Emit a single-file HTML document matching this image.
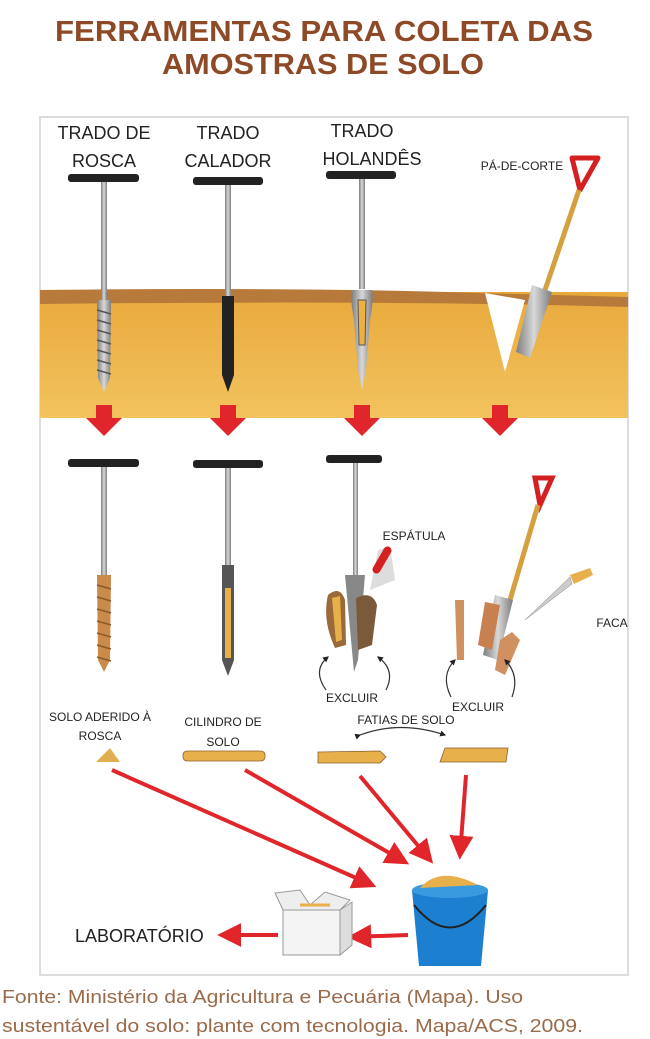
<!DOCTYPE html>
<html><head><meta charset="utf-8"><style>
html,body{margin:0;padding:0;background:#fff;width:650px;height:1039px;overflow:hidden}
svg{display:block}
text{font-family:"Liberation Sans",sans-serif}
</style></head><body>
<svg width="650" height="1039" viewBox="0 0 650 1039" xmlns="http://www.w3.org/2000/svg">
<defs>
<linearGradient id="soil" x1="0" y1="0" x2="0" y2="1">
<stop offset="0" stop-color="#e9a93c"/><stop offset="1" stop-color="#f2c35e"/></linearGradient>
<linearGradient id="steel" x1="0" y1="0" x2="1" y2="0">
<stop offset="0" stop-color="#7d7d7d"/><stop offset=".5" stop-color="#d8d8d8"/><stop offset="1" stop-color="#7d7d7d"/></linearGradient>
<marker id="ra" viewBox="0 0 10 10" refX="8" refY="5" markerWidth="6" markerHeight="6" orient="auto"><path d="M0 0L10 5L0 10z" fill="#e0262b"/></marker>
<marker id="ka" viewBox="0 0 10 10" refX="8" refY="5" markerWidth="5" markerHeight="5" orient="auto"><path d="M0 0L10 5L0 10z" fill="#222"/></marker>
</defs>
<g font-weight="bold" fill="#8e4a27" font-size="29" text-anchor="middle">
<text x="324" y="41" textLength="538" lengthAdjust="spacingAndGlyphs">FERRAMENTAS PARA COLETA DAS</text>
<text x="323" y="74" textLength="322" lengthAdjust="spacingAndGlyphs">AMOSTRAS DE SOLO</text></g>
<rect x="40" y="117" width="588" height="858" fill="#fff" stroke="#ddd" stroke-width="2"/>
<!-- soil -->
<path d="M40 292 L628 292 L628 418 L40 418Z" fill="url(#soil)"/>
<path d="M40 290 Q300 287 480 293 L628 297 L628 307 Q400 300 40 304Z" fill="#b77a3a"/>
<path d="M485 293 L505 372 L525 300Z" fill="#fff"/>
<g font-size="18" fill="#222" text-anchor="middle">
<text x="104" y="139">TRADO DE</text><text x="104" y="167">ROSCA</text>
<text x="228" y="139">TRADO</text><text x="228" y="167">CALADOR</text>
<text x="362" y="137">TRADO</text><text x="372" y="165">HOLANDÊS</text></g>
<text x="522" y="170" font-size="12" fill="#222" text-anchor="middle">PÁ-DE-CORTE</text>
<!-- top tools -->
<g>
<rect x="68" y="174" width="71" height="8" rx="3" fill="#222"/><rect x="101" y="182" width="6" height="120" fill="url(#steel)"/>
<path d="M97 300 L111 300 L110 378 L104 392 L98 378Z" fill="url(#steel)"/>
<g stroke="#555" stroke-width="1.5"><path d="M97 310 l14 4 M97 320 l14 4 M97 330 l14 4 M97 340 l14 4 M97 350 l14 4 M97 360 l14 4 M97 370 l14 4"/></g>
<rect x="193" y="177" width="70" height="8" rx="3" fill="#222"/><rect x="225" y="185" width="6" height="112" fill="url(#steel)"/>
<path d="M222 296 L234 296 L234 375 L228 392 L222 375Z" fill="#222"/>
<rect x="326" y="171" width="70" height="8" rx="3" fill="#222"/><rect x="359" y="179" width="6" height="110" fill="url(#steel)"/>
<path d="M352 290 Q350 300 354 320 L358 370 L362 390 L366 370 L370 320 Q374 300 372 290Z" fill="url(#steel)"/>
<path d="M358 300 L366 300 L365 345 L359 345Z" fill="#f0b040" stroke="#555"/>
<path d="M572 158 L598 158 L580 190 Z" fill="none" stroke="#d42020" stroke-width="5" stroke-linejoin="round"/>
<path d="M579 190 L545 290" stroke="#d6a040" stroke-width="5"/>
<path d="M532 285 L552 292 L530 358 L516 352Z" fill="url(#steel)"/>
</g>
<!-- red arrows -->
<g fill="#e0262b">
<path d="M96 405 h16 v13 h10 l-18 18 l-18 -18 h10z"/>
<path d="M220 405 h16 v13 h10 l-18 18 l-18 -18 h10z"/>
<path d="M354 405 h16 v13 h10 l-18 18 l-18 -18 h10z"/>
<path d="M492 405 h16 v13 h10 l-18 18 l-18 -18 h10z"/></g>
<!-- second row -->
<rect x="68" y="459" width="71" height="8" rx="3" fill="#222"/><rect x="101" y="467" width="6" height="110" fill="url(#steel)"/>
<path d="M97 575 L111 575 L110 660 L104 672 L98 660Z" fill="#c98a4a"/>
<g stroke="#8a5a2a" stroke-width="1.5"><path d="M97 585 l14 4 M97 597 l14 4 M97 609 l14 4 M97 621 l14 4 M97 633 l14 4 M97 645 l14 4 M97 657 l14 4"/></g>
<rect x="193" y="460" width="70" height="8" rx="3" fill="#222"/><rect x="225" y="468" width="6" height="100" fill="url(#steel)"/>
<path d="M222 565 L234 565 L234 660 L228 676 L222 660Z" fill="#555"/><rect x="225" y="588" width="6" height="70" fill="#e8b04a"/>
<rect x="326" y="455" width="56" height="8" rx="3" fill="#222"/><rect x="353" y="463" width="5" height="115" fill="url(#steel)"/>
<path d="M345 575 L365 575 L358 660 L354 672 Z" fill="#888"/>
<path d="M328 595 Q340 585 345 600 L346 645 L335 648 Q322 620 328 595Z" fill="#9a6a3a"/><path d="M332 598 L340 596 L342 640 L336 642Z" fill="#e8b04a"/>
<path d="M356 598 Q372 590 377 605 L372 645 L358 650Z" fill="#7a5a3a"/>
<path d="M378 550 L390 546 L395 580 L370 590 Z" fill="#ddd"/><rect x="378" y="545" width="8" height="30" rx="4" fill="#d42020" transform="rotate(30 382 560)"/>
<text x="414" y="540" font-size="12" fill="#222" text-anchor="middle">ESPÁTULA</text>
<path d="M535 478 L552 478 L540 505Z" fill="none" stroke="#d42020" stroke-width="5"/>
<path d="M538 505 L510 600" stroke="#d6a040" stroke-width="5"/>
<path d="M495 595 L513 600 L498 660 L483 655Z" fill="url(#steel)"/>
<path d="M485 602 L500 605 L492 650 L478 645Z" fill="#c98050"/>
<path d="M455 600 L464 600 L464 660 L457 660Z" fill="#d09060"/>
<path d="M500 640 L512 632 L520 640 L505 675 L495 670Z" fill="#d09060"/>
<path d="M570 575 L590 568 L593 575 L574 584Z" fill="#e8b04a"/><path d="M570 577 L525 620 L572 584Z" fill="#ccc" stroke="#888" stroke-width=".5"/>
<text x="612" y="627" font-size="12" fill="#222" text-anchor="middle">FACA</text>
<g fill="none" stroke="#333" stroke-width="1.2">
<path d="M326 690 Q312 670 328 657" marker-end="url(#ka)"/>
<path d="M386 690 Q396 670 378 657" marker-end="url(#ka)"/>
<path d="M451 697 Q440 675 455 660" marker-end="url(#ka)"/>
<path d="M512 697 Q520 675 505 660" marker-end="url(#ka)"/>
<path d="M360 735 Q400 720 445 735" marker-start="url(#ka)" marker-end="url(#ka)"/></g>
<g font-size="12" fill="#222" text-anchor="middle">
<text x="352" y="702">EXCLUIR</text><text x="478" y="711">EXCLUIR</text>
<text x="406" y="724">FATIAS DE SOLO</text>
<text x="100" y="721">SOLO ADERIDO À</text><text x="100" y="740">ROSCA</text>
<text x="223" y="726">CILINDRO DE</text><text x="223" y="746">SOLO</text></g>
<path d="M96 762 L110 748 L120 762Z" fill="#e0b050"/>
<rect x="183" y="751" width="82" height="10" rx="4" fill="#e8b04a" stroke="#8a6030" stroke-width=".8"/>
<path d="M318 752 L380 751 L386 757 L380 763 L318 763Z" fill="#e8b04a" stroke="#8a6030" stroke-width=".8"/>
<path d="M445 748 L508 748 L506 762 L440 762Z" fill="#e8b04a" stroke="#8a6030" stroke-width=".8"/>
<!-- red convergence arrows -->
<g stroke="#e0262b" stroke-width="4" marker-end="url(#ra)" fill="none">
<path d="M112 770 L372 885"/><path d="M245 770 L405 862"/><path d="M360 776 L430 860"/><path d="M466 775 L460 855"/>
<path d="M408 935 L352 937"/><path d="M278 935 L222 935"/></g>
<!-- bucket -->
<path d="M412 890 L488 890 L481 966 L419 966Z" fill="#1d7fcf"/>
<ellipse cx="450" cy="890" rx="38" ry="8" fill="#3a9ae0"/>
<path d="M420 888 Q440 865 478 885Z" fill="#e8b04a"/>
<path d="M414 905 Q450 950 486 905" fill="none" stroke="#222" stroke-width="2"/>
<!-- box -->
<path d="M283 910 L340 910 L340 955 L283 955Z" fill="#f4f4f4" stroke="#999"/>
<path d="M340 910 L352 902 L352 945 L340 955Z" fill="#ddd" stroke="#999"/>
<path d="M283 910 L275 893 L300 890 L310 905 L325 892 L350 900 L340 910Z" fill="#eee" stroke="#999"/>
<path d="M300 905 L330 905" stroke="#e8b04a" stroke-width="3"/>
<text x="75" y="942" font-size="18" fill="#222">LABORATÓRIO</text>
<g font-size="18" fill="#9a6b4b">
<text x="2" y="1003" textLength="521" lengthAdjust="spacingAndGlyphs">Fonte: Ministério da Agricultura e Pecuária (Mapa). Uso</text>
<text x="2" y="1032" textLength="581" lengthAdjust="spacingAndGlyphs">sustentável do solo: plante com tecnologia. Mapa/ACS, 2009.</text></g>
</svg>
</body></html>
